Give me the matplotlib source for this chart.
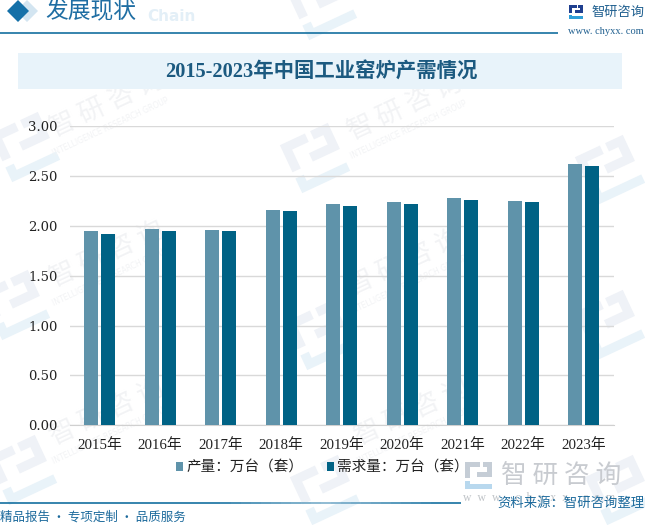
#!/usr/bin/env python

import numpy as np
import matplotlib
matplotlib.use('Agg')
import matplotlib.pyplot as plt
from matplotlib.patches import Polygon, Rectangle

years = ['2015年', '2016年', '2017年', '2018年', '2019年', '2020年', '2021年', '2022年', '2023年']
output_vals = [1.95, 1.97, 1.96, 2.16, 2.22, 2.24, 2.28, 2.25, 2.62]
demand_vals = [1.92, 1.95, 1.95, 2.15, 2.20, 2.22, 2.26, 2.24, 2.60]
y_ticks = [0, 0.5, 1.0, 1.5, 2.0, 2.5, 3.0]
series_names = ['产量：万台（套）', '需求量：万台（套）']

CJK = ['Noto Sans CJK SC', 'DejaVu Sans']
SERIF = ['Liberation Serif', 'Noto Sans CJK SC']
W, H = 645, 525

fig = plt.figure(figsize=(W / 100, H / 100), dpi=100)

# page layer in pixel coordinates
bg = fig.add_axes([0, 0, 1, 1], zorder=0)
bg.set_xlim(0, W)
bg.set_ylim(H, 0)
bg.axis('off')


def logo(ax, x, y, s, c1, c2):
    # small square company mark
    ax.add_patch(Polygon([(x, y), (x + s * .55, y), (x + s * .55, y + s * .18), (x + s * .18, y + s * .18),
                          (x + s * .18, y + s * .6), (x, y + s * .6)], color=c1, lw=0))
    ax.add_patch(Polygon([(x + s * .65, y), (x + s, y), (x + s, y + s * .55), (x + s * .45, y + s * .55),
                          (x + s * .45, y + s * .38), (x + s * .82, y + s * .38), (x + s * .82, y + s * .18),
                          (x + s * .65, y + s * .18)], color=c1, lw=0))
    ax.add_patch(Polygon([(x, y + s * .7), (x + s * .18, y + s * .7), (x + s * .18, y + s * .82),
                          (x + s, y + s * .82), (x + s, y + s), (x, y + s)], color=c2, lw=0))


def faint_logo(ax, x, y):
    # rotated mark of the page watermark
    a = np.deg2rad(-25)
    R = np.array([[np.cos(a), -np.sin(a)], [np.sin(a), np.cos(a)]])
    shapes = [
        ([(0, 0), (24, 0), (24, 8), (8, 8), (8, 26), (0, 26)], '#eff2f7'),
        ([(29, 0), (46, 0), (46, 25), (20, 25), (20, 17), (38, 17), (38, 8), (29, 8)], '#eff2f7'),
        ([(0, 32), (8, 32), (8, 38), (46, 38), (46, 46), (0, 46)], '#e9f3f9'),
    ]
    for pts, col in shapes:
        p = (np.array(pts) - 23.0).dot(R.T) * 1.15 + [x, y]
        ax.add_patch(Polygon(p, color=col, lw=0))


def faint_text(ax, x, y):
    ax.text(x, y, '智 研 咨 询', fontsize=19, color='#f2f3f5', rotation=25,
            ha='center', va='center', family=CJK, rotation_mode='anchor')
    ax.text(x + 4, y + 23, 'INTELLIGENCE RESEARCH GROUP', fontsize=5.5, color='#f2f3f5', rotation=25,
            ha='center', va='center', rotation_mode='anchor')


for lx, ly in [(322, 5), (25, 147), (315, 158), (610, 170), (15, 305), (320, 335), (610, 325),
               (22, 470), (325, 490), (620, 490)]:
    faint_logo(bg, lx, ly)
for tx, ty in [(107, 254), (107, 412), (405, 107), (405, 262), (412, 412), (107, 104)]:
    faint_text(bg, tx, ty)

# header
bg.add_patch(Polygon([(27, 0), (38, 11), (27, 22), (16, 11)], color='#d3e5f1', lw=0))
bg.add_patch(Polygon([(18, 0), (29, 11), (18, 22), (7, 11)], color='#1470a8', lw=0))
bg.text(147, 16.5, 'Chain', fontsize=11, fontweight='bold', color='#e3eff7', va='center', ha='left')
bg.text(45, 11, '发展现状', fontsize=16.4, color='#1f6ea3', va='center', ha='left', family=CJK)
bg.plot([0, 558], [32.5, 32.5], color='#1470a0', lw=1.2, solid_capstyle='butt')
logo(bg, 569, 5, 14, '#1f3f8f', '#2f9fd8')
bg.text(644, 12, '智研咨询', fontsize=9.5, color='#1f5f8f', va='center', ha='right', family=CJK)
bg.text(644, 32, 'www. chyxx. com', fontsize=7.5, color='#1f5f8f', va='center', ha='right', family=SERIF)

# title band
bg.add_patch(Rectangle((18, 53), 604, 36, color='#e8f3fa', lw=0, zorder=3))
bg.text(321, 73, '2015-2023年中国工业窑炉产需情况', fontsize=14.7, fontweight='bold',
        color='#1c5a80', va='center', ha='center', family=SERIF, zorder=4)

# big grey mark next to the legend
logo(bg, 465, 462, 27, '#c5cdd6', '#b8d8ee')
bg.text(501, 476, '智 研 咨 询', fontsize=18.5, color='#c8cbd0', va='center', ha='left', family=CJK)
bg.text(463, 498, 'w  w  w  .  c  h  y  x  x  .  c  o  m', fontsize=8.5, color='#c0c4c8',
        va='center', ha='left', family=SERIF)

# footer line fades a little in the middle
fx = np.linspace(0, 461, 47)
dark = np.array(matplotlib.colors.to_rgb('#1470a0'))
light = np.array(matplotlib.colors.to_rgb('#7fb0cc'))
for i in range(len(fx) - 1):
    t = max(0, 1 - abs(fx[i] - 320) / 110.0)
    bg.plot(fx[i:i + 2], [503, 503], color=dark + (light - dark) * t, lw=1.2, solid_capstyle='butt')
bg.text(0, 517, '精品报告 · 专项定制 · 品质服务', fontsize=9, color='#1c6a9c', va='center', ha='left', family=CJK)
bg.text(644, 503, '资料来源：智研咨询整理', fontsize=9.6, color='#1c6a9c', va='center', ha='right', family=CJK)

# chart
ax = fig.add_axes([69.5 / W, 1 - 425.3 / H, 544.5 / W, 299 / H], zorder=1)
ax.patch.set_alpha(0)
x = np.arange(len(years))
bar_w = 0.23
off = 0.14
b1 = ax.bar(x - off, output_vals, bar_w, color='#5f93aa', zorder=3, label=series_names[0])
b2 = ax.bar(x + off, demand_vals, bar_w, color='#006285', zorder=3, label=series_names[1])

ax.set_xlim(-0.5, len(years) - 0.5)
ax.set_ylim(0, 3)
ax.set_yticks(y_ticks)
ax.set_yticklabels(['%.2f' % v for v in y_ticks], fontsize=9.5, family='DejaVu Serif', color='#222222')
ax.set_xticks(x)
ax.set_xticklabels(years, fontsize=10.7, family=SERIF, color='#222222')
ax.yaxis.grid(True, linestyle='-', color='#d9d9d9', linewidth=1, zorder=0)
ax.tick_params(axis='x', length=0, pad=9.5)
ax.tick_params(axis='y', length=0, pad=8.3)
for side in ['top', 'right', 'left']:
    ax.spines[side].set_visible(False)
ax.spines['bottom'].set_color('#d0d0d0')

leg = fig.legend(handles=[b1, b2], loc='center', bbox_to_anchor=(322.5 / W, 1 - 468 / H), ncol=2,
                 frameon=False, prop={'family': CJK, 'size': 10.5}, handlelength=0.48, handleheight=0.55,
                 handletextpad=0.2, columnspacing=1.65, labelcolor='#222222')

fig.savefig('out.png', dpi=100)
